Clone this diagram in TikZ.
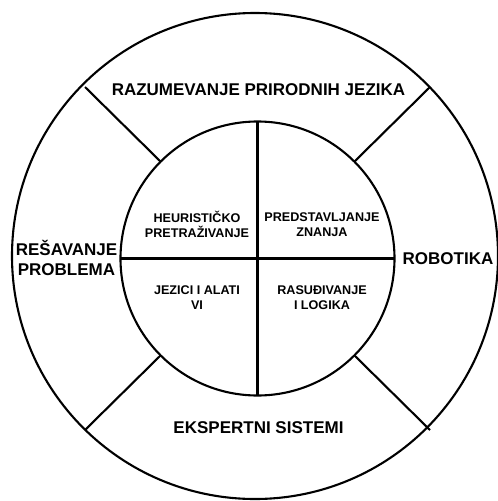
\documentclass[tikz,border=0pt]{standalone}
\usepackage{fontspec}
\setmainfont{Liberation Sans}
\begin{document}
\begin{tikzpicture}[x=1pt,y=-1pt,
  ring/.style={line width=2.1pt,draw=black},
  bigtxt/.style={inner sep=0pt,align=center,font=\bfseries\fontsize{17}{20}\selectfont},
  smalltxt/.style={inner sep=0pt,align=center,font=\bfseries\fontsize{12.6}{15}\selectfont}]
\useasboundingbox (0,0) rectangle (498,501);
\fill[white] (0,0) rectangle (498,501);
% centres
\coordinate (co) at (255,256);
\coordinate (ci) at (257.5,258.5);
% circles
\draw[ring] (co) circle [radius=243pt];
\draw[ring] (ci) circle [radius=137pt];
% inner cross
\coordinate (it) at (257.5,121.5);
\coordinate (ib) at (257.5,395.5);
\coordinate (il) at (120.5,258.5);
\coordinate (ir) at (394.5,258.5);
\draw[ring] (it) -- (ib);
\draw[ring] (il) -- (ir);
% diagonals
\coordinate (d1i) at (160.6,161.6);
\coordinate (d1o) at (85,87);
\coordinate (d2i) at (354.4,161.6);
\coordinate (d2o) at (430,87);
\coordinate (d3i) at (160.6,355.4);
\coordinate (d3o) at (85,430);
\coordinate (d4i) at (354.4,355.4);
\coordinate (d4o) at (430,430);
\draw[ring] (d1i) -- (d1o);
\draw[ring] (d2i) -- (d2o);
\draw[ring] (d3i) -- (d3o);
\draw[ring] (d4i) -- (d4o);
% outer labels
\node[bigtxt] (t1) at (258.5,90) {RAZUMEVANJE PRIRODNIH JEZIKA};
\node[bigtxt] (t2) at (448,259) {ROBOTIKA};
\node[bigtxt] (t3) at (66.5,258) {REŠAVANJE\\PROBLEMA};
\node[bigtxt] (t4) at (258.5,428) {EKSPERTNI SISTEMI};
% inner labels
\node[smalltxt] (s1) at (197,224.5) {HEURISTIČKO\\PRETRAŽIVANJE};
\node[smalltxt] (s2) at (322,224.5) {PREDSTAVLJANJE\\ZNANJA};
\node[smalltxt] (s3) at (197,297.5) {JEZICI I ALATI\\VI};
\node[smalltxt] (s4) at (322,297.5) {RASUĐIVANJE\\I LOGIKA};
\end{tikzpicture}
\end{document}
